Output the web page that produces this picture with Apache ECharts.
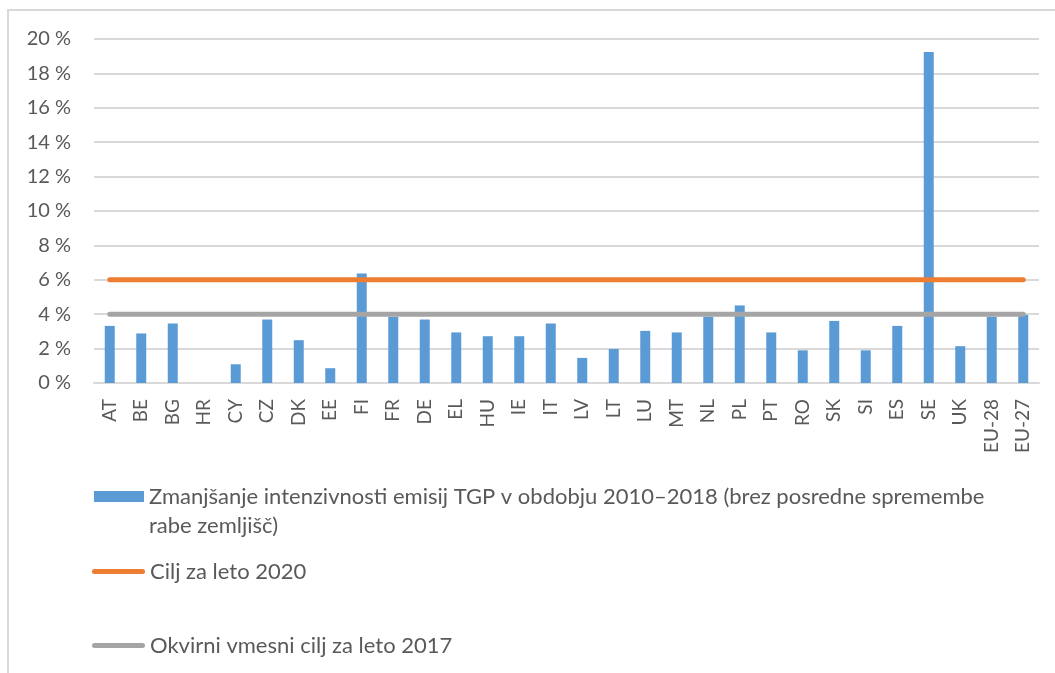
<!DOCTYPE html>
<html>
<head>
<meta charset="utf-8">
<script src="https://cdn.jsdelivr.net/npm/echarts@6/dist/echarts.min.js"></script>
<style>
  html, body { margin: 0; padding: 0; background: #fff; }
  #main { width: 1055px; height: 673px; }
</style>
</head>
<body>
<div id="main"></div>
<script>
// države (oznake na osi x)
var countries = ['AT', 'BE', 'BG', 'HR', 'CY', 'CZ', 'DK', 'EE', 'FI', 'FR', 'DE', 'EL', 'HU', 'IE', 'IT',
    'LV', 'LT', 'LU', 'MT', 'NL', 'PL', 'PT', 'RO', 'SK', 'SI', 'ES', 'SE', 'UK', 'EU-28', 'EU-27']
// zmanjšanje intenzivnosti emisij TGP 2010-2018 (%)
var reduction = [3.32, 2.88, 3.46, 0, 1.09, 3.69, 2.49, 0.86, 6.37, 3.85, 3.69, 2.94, 2.72, 2.72, 3.46,
    1.46, 1.98, 3.03, 2.94, 3.85, 4.51, 2.94, 1.90, 3.61, 1.90, 3.32, 19.24, 2.14, 3.85, 3.96]
// cilj za leto 2020
var target2020 = [6, 6, 6, 6, 6, 6, 6, 6, 6, 6, 6, 6, 6, 6, 6, 6, 6, 6, 6, 6, 6, 6, 6, 6, 6, 6, 6, 6, 6, 6]
// okvirni vmesni cilj za leto 2017
var target2017 = [4, 4, 4, 4, 4, 4, 4, 4, 4, 4, 4, 4, 4, 4, 4, 4, 4, 4, 4, 4, 4, 4, 4, 4, 4, 4, 4, 4, 4, 4]
// oznake na osi y
var yTicks = [0, 2, 4, 6, 8, 10, 12, 14, 16, 18, 20]

var nameBars = 'Zmanjšanje intenzivnosti emisij TGP v obdobju 2010–2018 (brez posredne spremembe rabe zemljišč)'
var name2020 = 'Cilj za leto 2020'
var name2017 = 'Okvirni vmesni cilj za leto 2017'

var font = 'Lato, "Liberation Sans", sans-serif'
var textColor = '#595959'
// ikona za črto v legendi (zaobljeni konci)
var lineIcon = 'path://M2.5,0 L50.5,0 A2.5,2.5 0 0 1 50.5,5 L2.5,5 A2.5,2.5 0 0 1 2.5,0 Z'

var myChart = echarts.init(document.getElementById('main'))

function legendBox(left, top, name, icon, itemWidth, itemHeight) {
    return {
        orient: 'vertical',
        left: left,
        top: top,
        padding: 0,
        itemWidth: itemWidth,
        itemHeight: itemHeight,
        data: [{ name: name, icon: icon }],
        selectedMode: false,
        textStyle: {
            color: textColor,
            fontFamily: font,
            fontSize: 22,
            lineHeight: 29
        },
        formatter: function (n) {
            if (n === nameBars) {
                // prazna prva vrstica, da je ikona poravnana s prvo vrstico besedila
                return ' \nZmanjšanje intenzivnosti emisij TGP v obdobju 2010–2018 (brez posredne spremembe\nrabe zemljišč)'
            }
            return n
        }
    }
}

var option = {
    animation: false,
    backgroundColor: '#fff',
    graphic: [{
        type: 'rect',
        shape: { x: 8, y: 10, width: 1200, height: 800 },
        style: { fill: 'none', stroke: '#d9d9d9', lineWidth: 2 },
        silent: true,
        z: -10
    }],
    grid: {
        left: 94,
        right: 16,
        top: 39,
        bottom: 290
    },
    legend: [
        legendBox(94, 453, nameBars, 'rect', 50, 11),
        legendBox(92, 557, name2020, lineIcon, 53, 5),
        legendBox(92, 631, name2017, lineIcon, 53, 5)
    ],
    xAxis: {
        type: 'category',
        data: countries,
        axisTick: { show: false },
        axisLine: { lineStyle: { color: '#d9d9d9', width: 2 } },
        axisLabel: {
            rotate: 90,
            margin: 16,
            interval: 0,
            color: textColor,
            fontFamily: font,
            fontSize: 19
        }
    },
    yAxis: {
        type: 'value',
        min: yTicks[0],
        max: yTicks[yTicks.length - 1],
        interval: yTicks[1] - yTicks[0],
        axisLine: { show: false },
        axisTick: { show: false },
        splitLine: { lineStyle: { color: '#d9d9d9', width: 2 } },
        axisLabel: {
            margin: 23,
            color: textColor,
            fontFamily: font,
            fontSize: 20,
            formatter: '{value} %'
        }
    },
    series: [
        {
            name: nameBars,
            type: 'bar',
            data: reduction,
            barWidth: 10,
            itemStyle: { color: '#5b9bd5' },
            z: 2
        },
        {
            name: name2020,
            type: 'line',
            data: target2020,
            symbol: 'none',
            lineStyle: { color: '#ed7d31', width: 5, cap: 'round' },
            itemStyle: { color: '#ed7d31' },
            z: 3
        },
        {
            name: name2017,
            type: 'line',
            data: target2017,
            symbol: 'none',
            lineStyle: { color: '#a5a5a5', width: 5, cap: 'round' },
            itemStyle: { color: '#a5a5a5' },
            z: 3
        }
    ]
}
myChart.setOption(option)
</script>
</body>
</html>
